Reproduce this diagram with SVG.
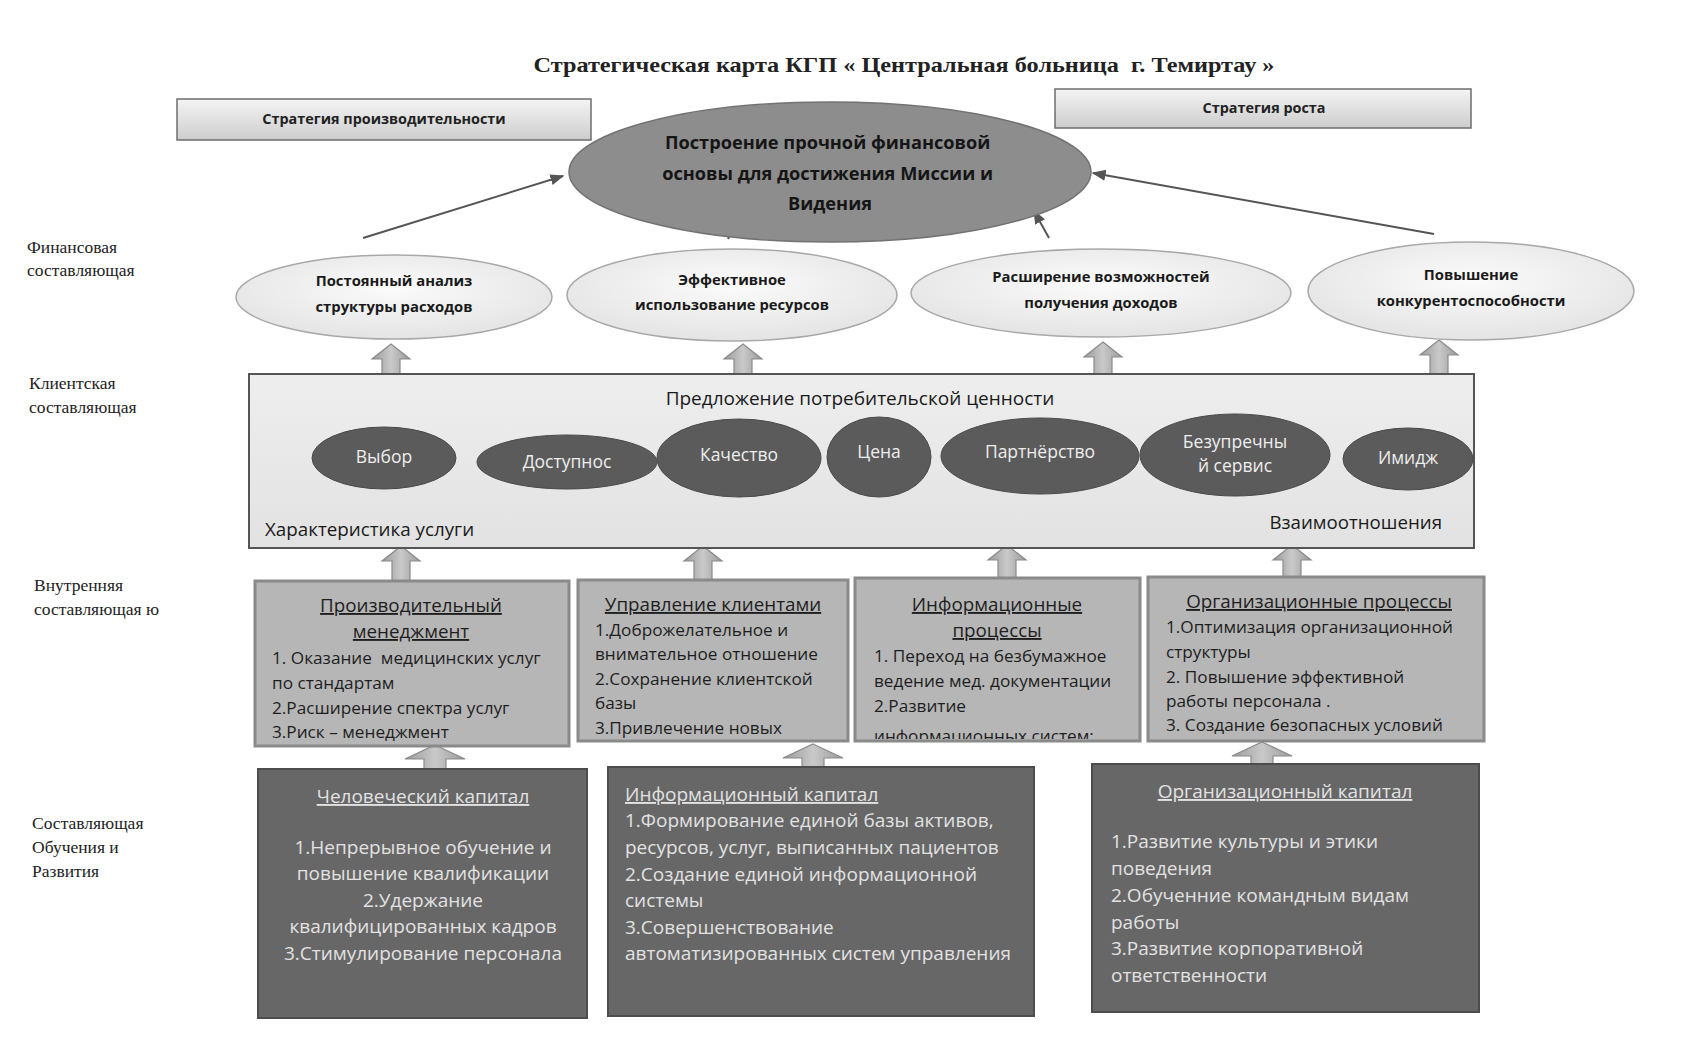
<svg xmlns="http://www.w3.org/2000/svg" width="1684" height="1046" viewBox="0 0 1684 1046">
<defs>
<style>
.serif{font-family:"Liberation Serif","DejaVu Serif",serif;fill:#222}
.sans{font-family:"Open Sans","Noto Sans","DejaVu Sans",sans-serif}
.lbl{font-size:17.5px}
.strat{fill:url(#gStrat);stroke:#6e6e6e;stroke-width:1.5}
.stxt{font-size:14.4px;font-weight:bold;fill:#222;text-anchor:middle}
.fin{fill:url(#gFin);stroke:#a8a8a8;stroke-width:1.5}
.ftxt{font-size:14.8px;font-weight:bold;fill:#1a1a1a;text-anchor:middle}
.dark{fill:#5b5b5b;stroke:#4a4a4a;stroke-width:1}
.dtxt{font-size:17.5px;fill:#eeeeee;text-anchor:middle}
.ibox{fill:#b6b6b6;stroke:#8a8a8a;stroke-width:3}
.itxt{font-size:17.2px;fill:#1e1e1e}
.ihead{font-size:18.8px;fill:#1e1e1e;text-anchor:middle;text-decoration:underline}
.lbox{fill:#676767;stroke:#4d4d4d;stroke-width:2}
.ltxt{font-size:19px;fill:#e2e2e2}
.conn{stroke:#555;stroke-width:2;fill:none}
.barrow{fill:url(#gArrow);stroke:#8a8a8a;stroke-width:1.2}
</style>
<linearGradient id="gStrat" x1="0" y1="0" x2="0" y2="1"><stop offset="0" stop-color="#f4f4f4"/><stop offset="1" stop-color="#cdcdcd"/></linearGradient>
<radialGradient id="gFin" cx="0.5" cy="0.4" r="0.6"><stop offset="0" stop-color="#fbfbfb"/><stop offset="1" stop-color="#e4e4e4"/></radialGradient>
<linearGradient id="gClient" x1="0" y1="0" x2="0" y2="1"><stop offset="0" stop-color="#eeeeee"/><stop offset="1" stop-color="#e2e2e2"/></linearGradient>
<linearGradient id="gArrow" x1="0" y1="0" x2="1" y2="0"><stop offset="0" stop-color="#9a9a9a"/><stop offset="0.5" stop-color="#c9c9c9"/><stop offset="1" stop-color="#9a9a9a"/></linearGradient>
<marker id="ah" viewBox="0 0 10 10" refX="9" refY="5" markerWidth="7" markerHeight="7" orient="auto" markerUnits="strokeWidth"><path d="M0,1 L10,5 L0,9 z" fill="#555"/></marker>
<clipPath id="clipI2"><rect x="578" y="580" width="270" height="159"/></clipPath>
<clipPath id="clipI3"><rect x="855" y="578" width="285" height="161"/></clipPath>
</defs>
<rect width="1684" height="1046" fill="#ffffff"/>

<text class="serif" x="904" y="72" font-size="22" font-weight="bold" text-anchor="middle" textLength="741" lengthAdjust="spacingAndGlyphs">Стратегическая карта КГП « Центральная больница&#160; г. Темиртау »</text>

<g id="labels" class="serif lbl">
<text x="27" y="253">Финансовая</text>
<text x="27" y="276">составляющая</text>
<text x="29" y="389">Клиентская</text>
<text x="29" y="413">составляющая</text>
<text x="34" y="591">Внутренняя</text>
<text x="34" y="615">составляющая ю</text>
<text x="32" y="829">Составляющая</text>
<text x="32" y="853">Обучения и</text>
<text x="32" y="877">Развития</text>
</g>

<g id="strategy-productivity">
<rect class="strat" x="177" y="99" width="414" height="41"/>
<text class="sans stxt" x="384" y="124">Стратегия производительности</text>
</g>
<g id="strategy-growth">
<rect class="strat" x="1055" y="89" width="416" height="39"/>
<text class="sans stxt" x="1264" y="113">Стратегия роста</text>
</g>

<g id="connectors">
<line class="conn" x1="363" y1="238" x2="563" y2="176" marker-end="url(#ah)"/>
<line class="conn" x1="728" y1="239" x2="731" y2="232"/>
<line class="conn" x1="1049" y1="238" x2="1034" y2="211" marker-end="url(#ah)"/>
<line class="conn" x1="1434" y1="234" x2="1093" y2="173" marker-end="url(#ah)"/>
<path class="barrow" d="M391,344 L410,359 L400,359 L400,376 L382,376 L382,359 L372,359 Z"/>
<path class="barrow" d="M743,344 L762,359 L752,359 L752,376 L734,376 L734,359 L724,359 Z"/>
<path class="barrow" d="M1103,342 L1122,357 L1112,357 L1112,376 L1094,376 L1094,357 L1084,357 Z"/>
<path class="barrow" d="M1439,340 L1458,355 L1448,355 L1448,374 L1430,374 L1430,355 L1420,355 Z"/>
<path class="barrow" d="M401,546 L420,561 L410,561 L410,581 L392,581 L392,561 L382,561 Z"/>
<path class="barrow" d="M703,546 L722,561 L712,561 L712,580 L694,580 L694,561 L684,561 Z"/>
<path class="barrow" d="M1007,545 L1026,560 L1016,560 L1016,578 L998,578 L998,560 L988,560 Z"/>
<path class="barrow" d="M1292,545 L1311,560 L1301,560 L1301,577 L1283,577 L1283,560 L1273,560 Z"/>
<path class="barrow" d="M435,745 L465,759 L446,759 L446,770 L424,770 L424,759 L405,759 Z"/>
<path class="barrow" d="M813,744 L843,758 L824,758 L824,768 L802,768 L802,758 L783,758 Z"/>
<path class="barrow" d="M1262,742 L1292,756 L1273,756 L1273,765 L1251,765 L1251,756 L1232,756 Z"/>
</g>

<g id="mission">
<ellipse cx="830" cy="172" rx="261" ry="70" fill="#8d8d8d" stroke="#727272" stroke-width="1.5"/>
<text class="sans" font-size="18.2" font-weight="bold" fill="#151515" text-anchor="middle">
<tspan x="830" y="149">Построение прочной финансовой</tspan>
<tspan x="830" y="180">основы для достижения Миссии и</tspan>
<tspan x="830" y="210">Видения</tspan>
</text>
</g>

<g id="fin-1">
<ellipse class="fin" cx="394" cy="297" rx="158" ry="42"/>
<text class="sans ftxt"><tspan x="394" y="286">Постоянный анализ</tspan><tspan x="394" y="312">структуры расходов</tspan></text>
</g>
<g id="fin-2">
<ellipse class="fin" cx="732" cy="295" rx="165" ry="46"/>
<text class="sans ftxt"><tspan x="732" y="285">Эффективное</tspan><tspan x="732" y="310">использование ресурсов</tspan></text>
</g>
<g id="fin-3">
<ellipse class="fin" cx="1101" cy="293" rx="190" ry="44"/>
<text class="sans ftxt"><tspan x="1101" y="282">Расширение возможностей</tspan><tspan x="1101" y="308">получения доходов</tspan></text>
</g>
<g id="fin-4">
<ellipse class="fin" cx="1471" cy="291" rx="163" ry="49"/>
<text class="sans ftxt"><tspan x="1471" y="280">Повышение</tspan><tspan x="1471" y="306">конкурентоспособности</tspan></text>
</g>

<g id="client">
<rect x="249" y="374" width="1225" height="174" fill="url(#gClient)" stroke="#555" stroke-width="2"/>
<text class="sans" x="860" y="405" font-size="19" fill="#1a1a1a" text-anchor="middle">Предложение потребительской ценности</text>
<text class="sans" x="265" y="536" font-size="18.8" fill="#1a1a1a">Характеристика услуги</text>
<text class="sans" x="1442" y="529" font-size="18.7" fill="#1a1a1a" text-anchor="end">Взаимоотношения</text>
</g>

<g id="val-choice"><ellipse class="dark" cx="384" cy="458" rx="72" ry="31"/><text class="sans dtxt" x="384" y="463">Выбор</text></g>
<g id="val-access"><ellipse class="dark" cx="567" cy="462" rx="90" ry="27"/><text class="sans dtxt" x="567" y="468">Доступнос</text></g>
<g id="val-quality"><ellipse class="dark" cx="739" cy="458" rx="82" ry="39"/><text class="sans dtxt" x="739" y="461">Качество</text></g>
<g id="val-price"><ellipse class="dark" cx="879" cy="457" rx="52" ry="40"/><text class="sans dtxt" x="879" y="458">Цена</text></g>
<g id="val-partner"><ellipse class="dark" cx="1040" cy="456" rx="99" ry="38"/><text class="sans dtxt" x="1040" y="458">Партнёрство</text></g>
<g id="val-service"><ellipse class="dark" cx="1235" cy="455" rx="95" ry="41"/><text class="sans dtxt" font-size="15.5"><tspan x="1235" y="448">Безупречны</tspan><tspan x="1235" y="472">й сервис</tspan></text></g>
<g id="val-image"><ellipse class="dark" cx="1408" cy="459" rx="65" ry="31"/><text class="sans dtxt" x="1408" y="464">Имидж</text></g>

<g id="int-1">
<rect class="ibox" x="255" y="581" width="314" height="165"/>
<text class="sans ihead"><tspan x="411" y="612">Производительный</tspan><tspan x="411" y="638">менеджмент</tspan></text>
<text class="sans itxt"><tspan x="272" y="664">1. Оказание&#160; медицинских услуг</tspan><tspan x="272" y="689">по стандартам</tspan><tspan x="272" y="714">2.Расширение спектра услуг</tspan><tspan x="272" y="738">3.Риск – менеджмент</tspan></text>
</g>
<g id="int-2">
<rect class="ibox" x="578" y="580" width="270" height="161"/>
<text class="sans ihead"><tspan x="713" y="611">Управление клиентами</tspan></text>
<g clip-path="url(#clipI2)"><text class="sans itxt"><tspan x="595" y="636">1.Доброжелательное и</tspan><tspan x="595" y="660">внимательное отношение</tspan><tspan x="595" y="685">2.Сохранение клиентской</tspan><tspan x="595" y="709">базы</tspan><tspan x="595" y="734">3.Привлечение новых</tspan></text></g>
</g>
<g id="int-3">
<rect class="ibox" x="855" y="578" width="285" height="163"/>
<text class="sans ihead"><tspan x="997" y="611">Информационные</tspan><tspan x="997" y="637">процессы</tspan></text>
<g clip-path="url(#clipI3)"><text class="sans itxt"><tspan x="874" y="662">1. Переход на безбумажное</tspan><tspan x="874" y="687">ведение мед. документации</tspan><tspan x="874" y="712">2.Развитие</tspan><tspan x="874" y="742">информационных систем:</tspan></text></g>
</g>
<g id="int-4">
<rect class="ibox" x="1148" y="577" width="336" height="164"/>
<text class="sans ihead"><tspan x="1319" y="608">Организационные процессы</tspan></text>
<text class="sans itxt"><tspan x="1166" y="633">1.Оптимизация организационной</tspan><tspan x="1166" y="658">структуры</tspan><tspan x="1166" y="683">2. Повышение эффективной</tspan><tspan x="1166" y="707">работы персонала .</tspan><tspan x="1166" y="731">3. Создание безопасных условий</tspan></text>
</g>

<g id="learn-1">
<rect class="lbox" x="258" y="769" width="329" height="249"/>
<text class="sans ltxt" text-anchor="middle"><tspan x="423" y="803" text-decoration="underline">Человеческий капитал</tspan><tspan x="423" y="854">1.Непрерывное обучение и</tspan><tspan x="423" y="880">повышение квалификации</tspan><tspan x="423" y="907">2.Удержание</tspan><tspan x="423" y="933">квалифицированных кадров</tspan><tspan x="423" y="960">3.Стимулирование персонала</tspan></text>
</g>
<g id="learn-2">
<rect class="lbox" x="608" y="767" width="426" height="249"/>
<text class="sans ltxt"><tspan x="625" y="801" text-decoration="underline">Информационный капитал</tspan><tspan x="625" y="827">1.Формирование единой базы активов,</tspan><tspan x="625" y="854">ресурсов, услуг, выписанных пациентов</tspan><tspan x="625" y="881">2.Создание единой информационной</tspan><tspan x="625" y="907">системы</tspan><tspan x="625" y="934">3.Совершенствование</tspan><tspan x="625" y="960">автоматизированных систем управления</tspan></text>
</g>
<g id="learn-3">
<rect class="lbox" x="1092" y="764" width="387" height="248"/>
<text class="sans ltxt"><tspan x="1285" y="798" text-anchor="middle" text-decoration="underline">Организационный капитал</tspan><tspan x="1111" y="848">1.Развитие культуры и этики</tspan><tspan x="1111" y="875">поведения</tspan><tspan x="1111" y="902">2.Обученние командным видам</tspan><tspan x="1111" y="929">работы</tspan><tspan x="1111" y="955">3.Развитие корпоративной</tspan><tspan x="1111" y="982">ответственности</tspan></text>
</g>
</svg>
